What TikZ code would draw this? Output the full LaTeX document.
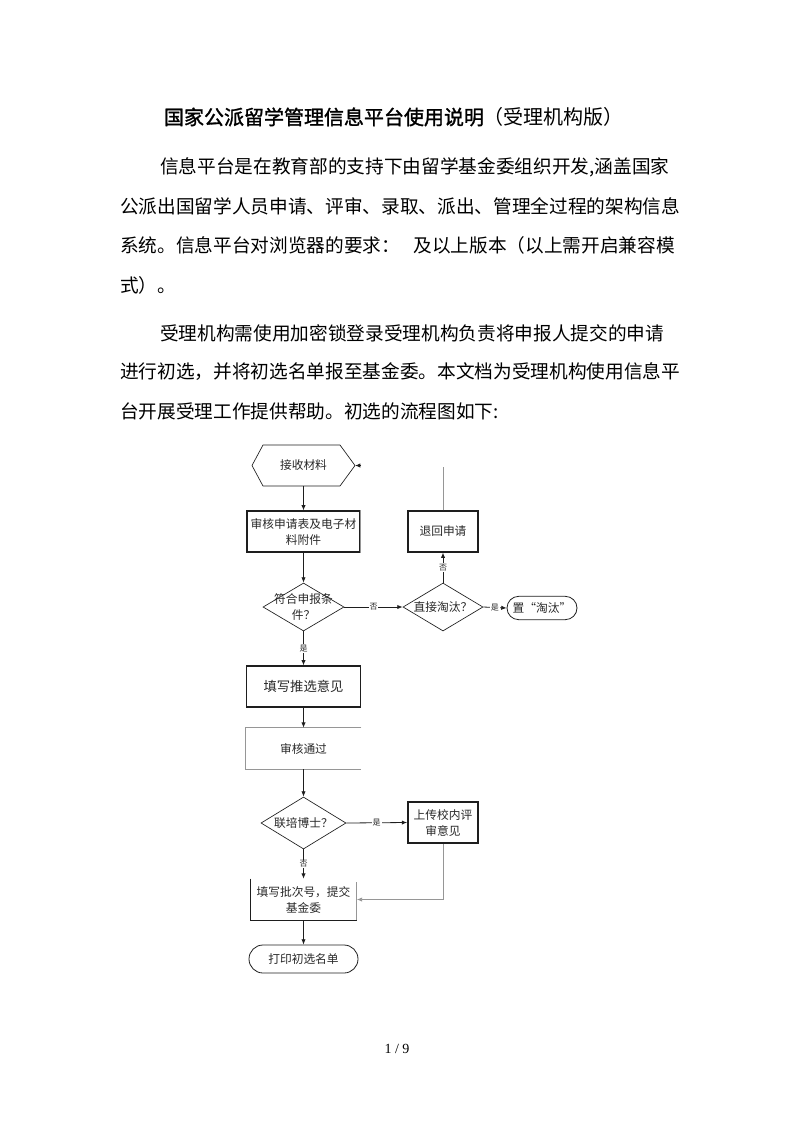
\documentclass[tikz,border=0pt]{standalone}
\usepackage{fontspec}
\setmainfont{Noto Sans CJK SC}
\newfontfamily\cjkb[FakeBold=1.5]{Noto Sans CJK SC}
\newfontfamily\serifnum{Liberation Serif}
\XeTeXlinebreaklocale "zh"
\XeTeXlinebreakskip=0pt plus 3pt
\usetikzlibrary{arrows.meta,shapes.geometric,shapes.misc,calc}
\definecolor{ln}{RGB}{30,30,30}
\definecolor{lg}{RGB}{150,150,150}
\definecolor{tx}{RGB}{40,40,40}
\tikzset{
  body/.style={anchor=west,inner sep=0pt,font=\fontsize{14pt}{16pt}\selectfont},
  ftext/.style={inner sep=0pt,align=center,text=tx,font=\fontsize{8.8pt}{12pt}\selectfont},
  boxk/.style={draw=ln,line width=0.8pt,inner sep=0pt,align=center,text=tx,font=\fontsize{8.8pt}{12pt}\selectfont},
  dia/.style={diamond,draw=ln,line width=0.5pt,inner sep=0pt,aspect=1.6},
  stad/.style={rounded rectangle,draw=ln,line width=0.6pt,inner sep=0pt,text=tx,font=\fontsize{8.8pt}{12pt}\selectfont},
  arr/.style={draw=ln,line width=0.6pt,-{Latex[length=4pt,width=3.2pt]}},
  garr/.style={draw=lg,line width=0.6pt,-{Latex[length=4pt,width=3.2pt]}},
  lab/.style={fill=white,inner sep=0.6pt,text=tx,font=\fontsize{6pt}{7pt}\selectfont},
}
\begin{document}
\begin{tikzpicture}[x=0.75pt,y=-0.75pt]
\useasboundingbox (0,0) rectangle (793,1122);
% title
\node[inner sep=0pt,font=\fontsize{15pt}{17pt}\selectfont] (title) at (394,117) {{\cjkb 国家公派留学管理信息平台使用说明}（受理机构版）};
% paragraph 1
\node[body] (p1a) at (160,167) {\makebox[386.25pt][s]{信息平台是在教育部的支持下由留学基金委组织开发,涵盖国家}};
\node[body] (p1b) at (120,206) {\makebox[416.25pt][s]{公派出国留学人员申请、评审、录取、派出、管理全过程的架构信息}};
\node[body] (p1c) at (120,245) {系统。信息平台对浏览器的要求：};
\node[body,anchor=east] (p1d) at (675,245) {及以上版本（以上需开启兼容模};
\node[body] (p1e) at (120,285) {式）。};
% paragraph 2
\node[body] (p2a) at (160,333) {\makebox[386.25pt][s]{受理机构需使用加密锁登录受理机构负责将申报人提交的申请}};
\node[body] (p2b) at (120,372) {\makebox[416.25pt][s]{进行初选，并将初选名单报至基金委。本文档为受理机构使用信息平}};
\node[body] (p2c) at (120,411) {台开展受理工作提供帮助。初选的流程图如下:};
% page number
\node[inner sep=0pt,font=\serifnum\fontsize{10.5pt}{12pt}\selectfont] (pg) at (397,1049) {1 / 9};

% ---------- flowchart ----------
% receive (hexagon)
\node[ftext,minimum width=77pt,minimum height=31pt] (recv) at (303.5,465.5) {接收材料};
\draw[ln,line width=0.5pt] (252,465.5) -- (263,445) -- (340,445) -- (355,465.5) -- (340,486) -- (263,486) -- cycle;
% review form box
\node[boxk,minimum width=84.75pt,minimum height=30.75pt] (rev) at (303.5,531.5) {审核申请表及电子材\\料附件};
\draw[lg,line width=0.9pt] (rev.north east) -- (rev.south east);
% return
\node[boxk,minimum width=52.5pt,minimum height=30.75pt] (back) at (443,531.5) {退回申请};
% condition 1
\node[dia,minimum width=60.75pt,minimum height=36pt] (c1) at (303.5,607) {};
\node[ftext] (c1t) at (303.5,607) {符合申报条\\件？};
% eliminate?
\node[dia,minimum width=60pt,minimum height=36pt] (elim) at (443,607) {};
\node[ftext] (elimt) at (443,607) {直接淘汰？};
% tag eliminated
\node[stad,minimum width=52.5pt,minimum height=17.5pt] (tag) at (542,608) {置“淘汰”};
% fill opinion
\node[boxk,minimum width=85.5pt,minimum height=30.75pt,font=\fontsize{10pt}{12pt}\selectfont] (fill) at (303.5,686.5) {填写推选意见};
% pass (open box)
\node[ftext,minimum width=86.25pt,minimum height=30.75pt] (pass) at (303.5,748.5) {审核通过};
\draw[lg,line width=0.8pt] (pass.north east) -- (pass.north west) -- (pass.south west) -- (pass.south east);
% condition 2
\node[dia,minimum width=63.75pt,minimum height=39pt] (c2) at (303.5,823) {};
\node[ftext] (c2t) at (303.5,823) {联培博士？};
% upload
\node[boxk,line width=1.3pt,minimum width=52.5pt,minimum height=30.75pt] (up) at (443,822.5) {上传校内评\\审意见};
% submit (open box)
\node[ftext,minimum width=79.5pt,minimum height=30.75pt] (sub) at (303.5,899.5) {填写批次号，提交\\基金委};
\draw[ln,line width=0.7pt] (sub.north west) -- (sub.south west) -- (sub.south east);
\draw[lg,line width=0.7pt] (sub.south east) -- ($(sub.north east)+(0,3)$);
% print
\node[stad,minimum width=81.75pt,minimum height=21pt] (print) at (303.5,959) {打印初选名单};

% connectors
\draw[arr] (recv.south) -- (rev.north);
\draw[arr] (rev.south) -- (c1.north);
\draw[arr] (c1.east) -- node[lab] {否} (elim.west);
\draw[arr] (elim.east) -- node[lab] {是} (tag.west);
\draw[arr] (elim.north) -- node[lab] {否} (back.south);
\coordinate (backup) at (443,467);
\draw[lg,line width=0.6pt] (back.north) -- (backup);
\coordinate (tipr) at (361,465.5);
\draw[arr] (tipr) -- (355,465.5);
\draw[arr] (c1.south) -- node[lab] {是} (fill.north);
\draw[arr] (fill.south) -- (pass.north);
\draw[arr] (pass.south) -- (c2.north);
\draw[arr] (c2.east) -- node[lab] {是} (up.west);
\draw[arr] (c2.south) -- node[lab] {否} (sub.north);
\draw[garr] (up.south) |- (sub.east);
\draw[arr] (sub.south) -- (print.north);
\end{tikzpicture}
\end{document}
